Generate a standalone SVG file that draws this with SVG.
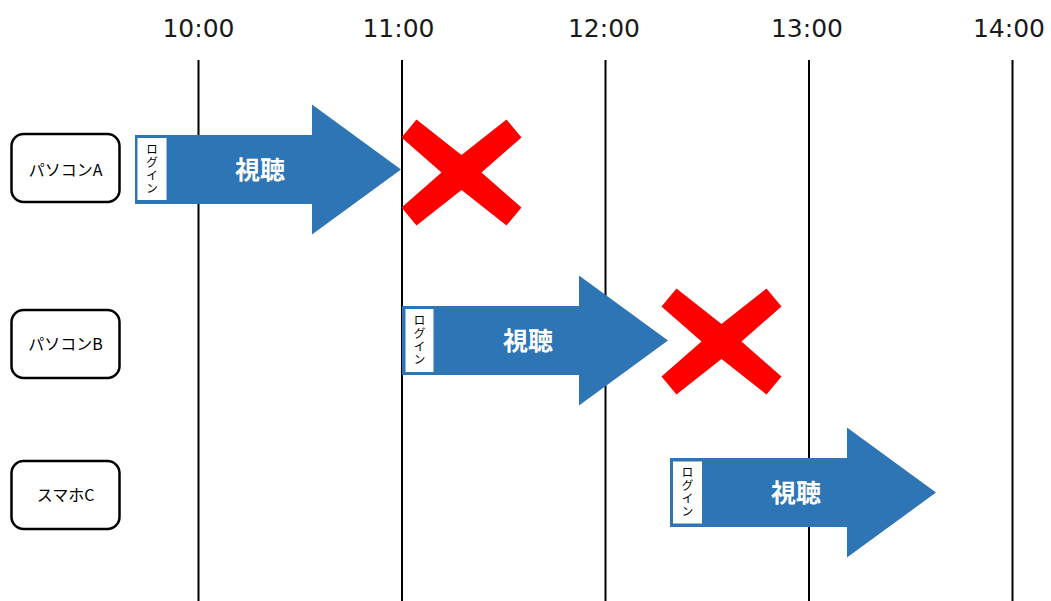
<svg xmlns="http://www.w3.org/2000/svg" width="1051" height="601" viewBox="0 0 1051 601">
<style>
.grid{stroke:#000;stroke-width:2;fill:none}
.time{font-family:"DejaVu Sans",Verdana,sans-serif;font-size:25px;fill:#1a1a1a;text-anchor:middle}
.node rect{fill:#fff;stroke:#000;stroke-width:2.5}
.node text{font-family:"Noto Sans CJK JP","Noto Sans",sans-serif;font-size:16px;fill:#000;text-anchor:middle}
.arrow{fill:#2E75B6}
.login{fill:#fff}
.logintxt{font-family:"Noto Sans CJK JP",sans-serif;font-size:12px;letter-spacing:1px;fill:#000;writing-mode:vertical-rl;text-anchor:middle}
.watch{font-family:"Noto Sans CJK JP",sans-serif;font-size:25px;font-weight:bold;fill:#fff;text-anchor:middle}
.cross{fill:#FF0000}
</style>
<defs>
<path id="arr" d="M0,-34.5 H177 V-65 L266,0 L177,65 V34.5 H0 Z"/>
<path id="x" d="M-45,-53 L0,-17.5 L45,-53 L60,-35 L20,0 L60,35 L45,53 L0,17.5 L-45,53 L-60,35 L-20,0 L-60,-35 Z"/>
</defs>
<rect width="1051" height="601" fill="#fff"/>
<g id="timeline">
<line class="grid" x1="198.5" y1="60" x2="198.5" y2="601"/>
<line class="grid" x1="402" y1="60" x2="402" y2="601"/>
<line class="grid" x1="605.5" y1="60" x2="605.5" y2="601"/>
<line class="grid" x1="809" y1="60" x2="809" y2="601"/>
<line class="grid" x1="1012.5" y1="60" x2="1012.5" y2="601"/>
<text class="time" x="198.5" y="37">10:00</text>
<text class="time" x="398.5" y="37">11:00</text>
<text class="time" x="604" y="37">12:00</text>
<text class="time" x="807" y="37">13:00</text>
<text class="time" x="1009" y="37">14:00</text>
</g>
<g id="nodeA" class="node">
<rect x="11.5" y="134" width="108" height="68" rx="12"/>
<text x="65.5" y="176">パソコンA</text>
</g>
<g id="nodeB" class="node">
<rect x="11.5" y="310" width="108" height="68" rx="12"/>
<text x="65.5" y="350">パソコンB</text>
</g>
<g id="nodeC" class="node">
<rect x="11.5" y="461" width="108" height="68" rx="12"/>
<text x="65.5" y="501">スマホC</text>
</g>
<g id="connectors">
<g id="sessionA" transform="translate(135,169.5)">
<use href="#arr" class="arrow"/>
<rect class="login" x="2.5" y="-31.5" width="29" height="62"/>
<text class="logintxt" x="17" y="0">ログイン</text>
<text class="watch" x="125" y="9">視聴</text>
</g>
<g id="sessionB" transform="translate(402,340.5)">
<use href="#arr" class="arrow"/>
<rect class="login" x="3.5" y="-31.5" width="28" height="63"/>
<text class="logintxt" x="17.5" y="0">ログイン</text>
<text class="watch" x="126" y="9">視聴</text>
</g>
<g id="sessionC" transform="translate(670,492.5)">
<use href="#arr" class="arrow"/>
<rect class="login" x="3" y="-31" width="29" height="62"/>
<text class="logintxt" x="17.5" y="0">ログイン</text>
<text class="watch" x="126" y="9">視聴</text>
</g>
</g>
<g id="crossA"><use href="#x" class="cross" transform="translate(461.5,172.5)"/></g>
<g id="crossB"><use href="#x" class="cross" transform="translate(721.5,341.5)"/></g>
</svg>
